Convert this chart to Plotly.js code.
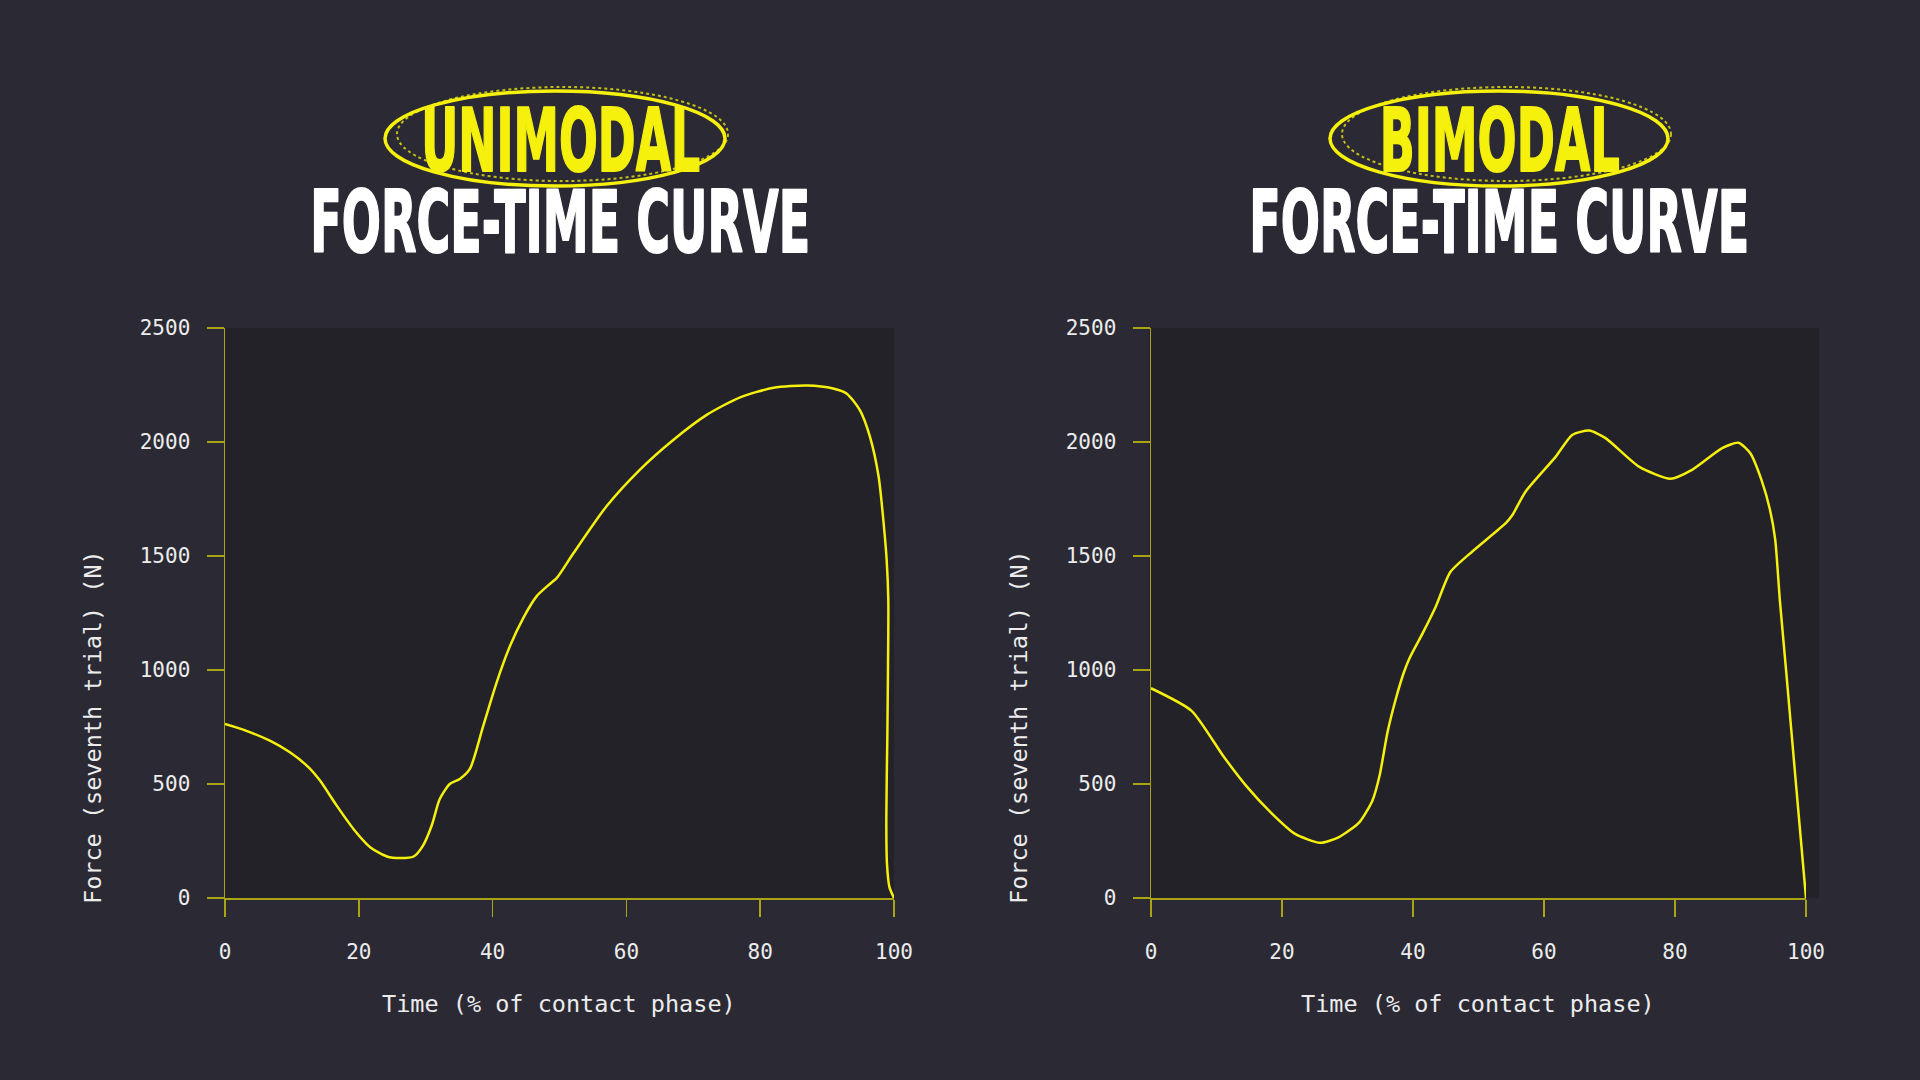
<!DOCTYPE html>
<html>
<head>
<meta charset="utf-8">
<script src="https://cdn.plot.ly/plotly-3.0.1.min.js"></script>
<style>
  html, body { margin: 0; padding: 0; background: #2b2a34; }
  #chart { width: 1920px; height: 1080px; }
</style>
</head>
<body>
<div id="chart"></div>
<script>
// unimodal trial: time (% of contact) vs force (N)
var uniTime = [0, 3.2, 6.7, 9.7, 12.5, 14.2, 16.7, 19.2, 21.7, 24.2, 26.2, 28.2, 29.6, 30.9, 32.1, 33.6, 35.1,
               36.6, 38.6, 40.6, 42.6, 44.6, 46.6, 48.3, 49.6, 52.1, 57, 62, 67, 72, 77, 82, 87, 90.9, 92.9,
               94.9, 96.4, 97.7, 98.4, 98.9, 99.15, 99.1, 99.0, 98.85, 98.95, 99.3, 100];
var uniForce = [763, 733, 690, 639, 573, 515, 405, 303, 223, 182, 175, 182, 230, 318, 434, 500, 522,
                566, 755, 945, 1105, 1229, 1324, 1371, 1404, 1513, 1717, 1878, 2009, 2119, 2196, 2238, 2248, 2235, 2213,
                2140, 2024, 1849, 1659, 1484, 1309, 1000, 700, 350, 150, 50, 0];

// bimodal trial
var biTime = [0, 6.2, 11, 14.5, 18.5, 22, 25.8, 28.7, 31.8, 33.8, 34.9, 36.1, 37.5, 38.6, 39.5, 41.5, 43.5, 45.7,
              49.1, 54.2, 55.2, 57.2, 61.8, 64.3, 66.9, 69.4, 74.5, 79.3, 82.6, 87.2, 89.7, 91.5, 93.2, 94.5, 95.3,
              96.0, 97, 98.5, 100];
var biForce = [920, 821, 624, 493, 369, 281, 242, 267, 332, 427, 537, 726, 886, 989, 1054, 1163, 1280, 1430,
               1521, 1645, 1681, 1783, 1936, 2031, 2050, 2017, 1892, 1839, 1878, 1973, 1997, 1951, 1834, 1703, 1572,
               1309, 985, 490, 0];

var xTicks = [0, 20, 40, 60, 80, 100];
var yTicks = [0, 500, 1000, 1500, 2000, 2500];

var chartTitles = ['UNIMODAL', 'BIMODAL'];
var subTitle = 'FORCE-TIME CURVE';
var xTitle = 'Time (% of contact phase)';
var yTitle = 'Force (seventh trial) (N)';

// widths the heading words are squeezed to (condensed display face look)
var headWidths = { 'UNIMODAL': 279, 'BIMODAL': 240, 'FORCE-TIME CURVE': 500 };

var YELLOW = '#f5f00c';
var AXIS = '#a9a414';
var TEXT = '#ececec';
var MONO = '"DejaVu Sans Mono", "Liberation Mono", monospace';
var HEAD = '"DejaVu Sans", "Liberation Sans", sans-serif';

function px(v) { return v / 1920; }
function py(v) { return 1 - v / 1080; }

var traces = [
  { x: uniTime, y: uniForce, xaxis: 'x', yaxis: 'y', mode: 'lines',
    line: { color: YELLOW, width: 2.5, shape: 'spline', smoothing: 0.7 }, hoverinfo: 'skip' },
  { x: biTime, y: biForce, xaxis: 'x2', yaxis: 'y2', mode: 'lines',
    line: { color: YELLOW, width: 2.5, shape: 'spline', smoothing: 0.6 }, hoverinfo: 'skip' }
];

function xAxis(dom, anchor) {
  return {
    domain: dom, anchor: anchor, range: [0, 100], tickvals: xTicks,
    showgrid: false, zeroline: false, showline: true, linecolor: AXIS, linewidth: 1.5,
    ticks: 'outside', ticklen: 17, tickwidth: 1.5, tickcolor: AXIS,
    ticklabelstandoff: 17, tickfont: { family: MONO, size: 21, color: TEXT }, fixedrange: true
  };
}
function yAxis(anchor) {
  return {
    domain: [py(898), py(328)], anchor: anchor, range: [0, 2500], tickvals: yTicks,
    showgrid: false, zeroline: false, showline: true, linecolor: AXIS, linewidth: 1.5,
    ticks: 'outside', ticklen: 17, tickwidth: 1.5, tickcolor: AXIS,
    ticklabelstandoff: 12, tickfont: { family: MONO, size: 21, color: TEXT }, fixedrange: true
  };
}

var centers = [559, 1478];
var yTitleX = [93, 1019];
var annotations = [];
var shapes = [];

// extra dark strip to the right of the second plot
shapes.push({ type: 'rect', xref: 'paper', yref: 'paper', layer: 'below',
  x0: px(1149), x1: px(1819), y0: py(898), y1: py(328), fillcolor: '#232229', line: { width: 0 } });

for (var i = 0; i < 2; i++) {
  var cx = i === 0 ? 560 : 1499;
  annotations.push({ text: '<b>' + chartTitles[i] + '</b>', xref: 'paper', yref: 'paper',
    x: px(cx), y: py(140), showarrow: false, xanchor: 'center', yanchor: 'middle',
    font: { family: HEAD, size: 88, color: YELLOW } });
  annotations.push({ text: '<b>' + subTitle + '</b>', xref: 'paper', yref: 'paper',
    x: px(cx), y: py(222), showarrow: false, xanchor: 'center', yanchor: 'middle',
    font: { family: HEAD, size: 86, color: '#ffffff' } });
  annotations.push({ text: xTitle, xref: 'paper', yref: 'paper',
    x: px(centers[i]), y: py(1004), showarrow: false, xanchor: 'center', yanchor: 'middle',
    font: { family: MONO, size: 23.5, color: TEXT } });
  annotations.push({ text: yTitle, xref: 'paper', yref: 'paper', textangle: -90,
    x: px(yTitleX[i]), y: py(727), showarrow: false, xanchor: 'center', yanchor: 'middle',
    font: { family: MONO, size: 23.5, color: TEXT } });

  // hand drawn looking ring round the first title word
  var w = i === 0 ? [385, 725] : [1330, 1668];
  shapes.push({ type: 'circle', xref: 'paper', yref: 'paper',
    x0: px(w[0]), x1: px(w[1]), y0: py(186), y1: py(91),
    line: { color: YELLOW, width: 3.5 } });
  shapes.push({ type: 'circle', xref: 'paper', yref: 'paper',
    x0: px(w[0] + 12), x1: px(w[1] + 3), y0: py(181), y1: py(87),
    line: { color: YELLOW, width: 2, dash: 'dot' }, opacity: 0.75 });
}

var layout = {
  width: 1920, height: 1080,
  margin: { l: 0, r: 0, t: 0, b: 0 },
  paper_bgcolor: '#2b2a34', plot_bgcolor: '#232229',
  showlegend: false,
  xaxis: xAxis([px(225), px(894)], 'y'),
  yaxis: yAxis('x'),
  xaxis2: xAxis([px(1151), px(1806)], 'y2'),
  yaxis2: yAxis('x2'),
  annotations: annotations,
  shapes: shapes
};

Plotly.newPlot('chart', traces, layout, { displayModeBar: false, staticPlot: true }).then(function (gd) {
  // squeeze the heading words so they read like a condensed display face
  gd.querySelectorAll('.annotation-text').forEach(function (t) {
    var target = headWidths[t.textContent];
    if (!target) return;
    var b = t.getBBox();
    var s = target / b.width;
    var mid = b.x + b.width / 2;
    t.setAttribute('transform', 'translate(' + mid + ',0) scale(' + s + ',1) translate(' + (-mid) + ',0)');
    t.style.stroke = t.style.fill;
    t.style.strokeWidth = '2px';
    t.style.strokeLinejoin = 'round';
  });
});
</script>
</body>
</html>
